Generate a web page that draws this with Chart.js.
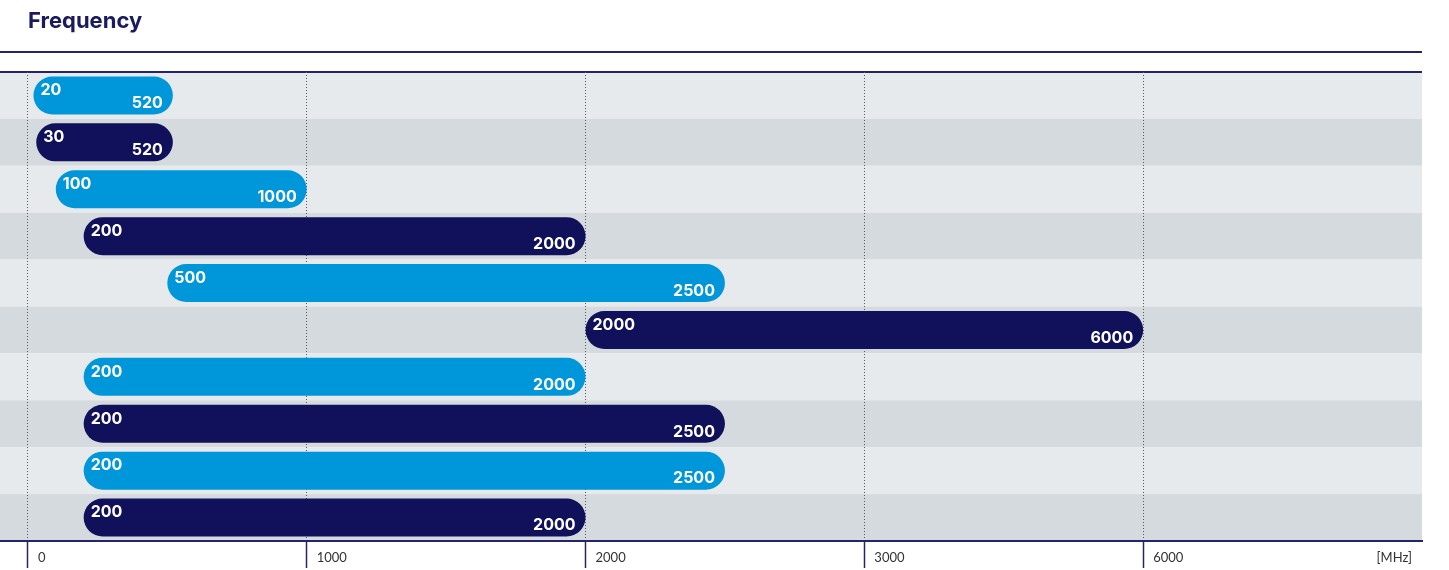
<!DOCTYPE html>
<html>
<head>
<meta charset="utf-8">
<script src="https://cdn.jsdelivr.net/npm/chart.js@4/dist/chart.umd.min.js"></script>
<style>
  html, body { margin: 0; padding: 0; background: #fff; }
  #wrap { width: 1449px; height: 570px; }
</style>
</head>
<body>
<div id="wrap"><canvas id="freqChart" width="1449" height="570"></canvas></div>
<script>
// rows (no visible labels in the picture)
const rows = ['Row 1', 'Row 2', 'Row 3', 'Row 4', 'Row 5', 'Row 6', 'Row 7', 'Row 8', 'Row 9', 'Row 10'];
const startMHz = [20, 30, 100, 200, 500, 2000, 200, 200, 200, 200];
const endMHz = [520, 520, 1000, 2000, 2500, 6000, 2000, 2500, 2500, 2000];
const tickValues = [0, 1000, 2000, 3000, 6000];
const unitLabel = '[MHz]';

const LIGHT = '#0096da';
const NAVY = '#11105a';
const LINE = '#24246a';

// axis is evenly spaced between the tick values, so map MHz -> tick index
function toUnits(v) {
    for (let i = 1; i < tickValues.length; i++) {
        if (v <= tickValues[i]) {
            const a = tickValues[i - 1], b = tickValues[i];
            return (i - 1) + (v - a) / (b - a);
        }
    }
    return tickValues.length - 1;
}

const barData = startMHz.map((s, i) => [toUnits(s), toUnits(endMHz[i])]);
const barColors = rows.map((_, i) => i % 2 === 0 ? LIGHT : NAVY);

const backdrop = {
    id: 'backdrop',
    beforeDraw(chart) {
        const { ctx, chartArea, scales } = chart;
        const y = scales.y;
        const band = (chartArea.bottom - chartArea.top) / rows.length;
        ctx.save();
        rows.forEach((_, i) => {
            const cy = y.getPixelForValue(i);
            ctx.fillStyle = i % 2 === 0 ? '#e6eaed' : '#d5dade';
            ctx.fillRect(0, cy - band / 2, chartArea.right, band);
        });
        // title + header rules
        ctx.fillStyle = '#1b1a5e';
        ctx.font = 'bold 22px Inter, "Noto Sans", sans-serif';
        ctx.textBaseline = 'alphabetic';
        ctx.textAlign = 'left';
        ctx.fillText('Frequency', 28, 28);
        ctx.strokeStyle = LINE;
        ctx.lineWidth = 2;
        ctx.beginPath();
        ctx.moveTo(0, 52); ctx.lineTo(chartArea.right, 52);
        ctx.moveTo(0, chartArea.top); ctx.lineTo(chartArea.right, chartArea.top);
        ctx.stroke();
        ctx.restore();
    },
    afterDraw(chart) {
        const { ctx, chartArea } = chart;
        ctx.save();
        ctx.fillStyle = '#333';
        ctx.font = '13px Lato, "Noto Sans", sans-serif';
        ctx.textAlign = 'right';
        ctx.textBaseline = 'middle';
        ctx.fillText(unitLabel, chartArea.right - 10, 558);
        ctx.restore();
    }
};

const barLabels = {
    id: 'barLabels',
    afterDatasetsDraw(chart) {
        const { ctx } = chart;
        const meta = chart.getDatasetMeta(0);
        ctx.save();
        ctx.fillStyle = '#fff';
        ctx.font = 'bold 16px Inter, "Noto Sans", sans-serif';
        ctx.textBaseline = 'middle';
        meta.data.forEach((bar, i) => {
            const left = Math.min(bar.x, bar.base);
            const right = Math.max(bar.x, bar.base);
            ctx.textAlign = 'left';
            ctx.fillText(String(startMHz[i]), left + 7, bar.y - 5);
            ctx.textAlign = 'right';
            ctx.fillText(String(endMHz[i]), right - 10, bar.y + 8);
        });
        ctx.restore();
    }
};

new Chart(document.getElementById('freqChart'), {
    type: 'bar',
    data: {
        labels: rows,
        datasets: [{
            data: barData,
            backgroundColor: barColors,
            borderWidth: 0,
            borderSkipped: false,
            borderRadius: 20,
            barPercentage: 0.81,
            categoryPercentage: 1
        }]
    },
    options: {
        indexAxis: 'y',
        responsive: false,
        animation: false,
        devicePixelRatio: 1,
        layout: { padding: { left: 0, right: 27, top: 72, bottom: 0 } },
        plugins: {
            legend: { display: false },
            tooltip: { enabled: false }
        },
        scales: {
            y: {
                display: false,
                offset: true
            },
            x: {
                position: 'bottom',
                min: -0.1,
                max: 5,
                afterBuildTicks(scale) {
                    scale.ticks = tickValues.map((_, i) => ({ value: i }));
                },
                afterFit(scale) {
                    scale.height = 29;
                },
                grid: {
                    color: '#5a5a5a',
                    lineWidth: 1,
                    tickLength: 27,
                    tickColor: LINE,
                    tickWidth: 1.5,
                    tickBorderDash: []
                },
                border: { color: LINE, width: 2, dash: [1, 2] },
                ticks: {
                    align: 'start',
                    labelOffset: 10,
                    padding: -18,
                    color: '#333',
                    font: { family: 'Lato, "Noto Sans", sans-serif', size: 13 },
                    callback: (v, i) => String(tickValues[i])
                }
            }
        }
    },
    plugins: [backdrop, barLabels]
});
</script>
</body>
</html>
